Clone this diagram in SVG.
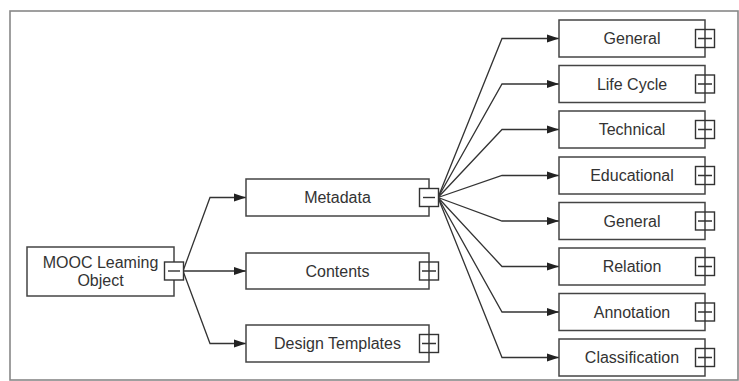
<svg xmlns="http://www.w3.org/2000/svg" width="739" height="381" viewBox="0 0 739 381">
<style>
.node{fill:#fff;stroke:#444;stroke-width:1.5}
.tg{fill:#fff;stroke:#333;stroke-width:1.4}
.tl{stroke:#333;stroke-width:1.4;fill:none}
.lbl{font-family:"Liberation Sans",Arial,sans-serif;font-size:16px;fill:#333;text-anchor:middle}
.conn{fill:none;stroke:#333;stroke-width:1.3}
</style>
<defs>
<marker id="arr" markerUnits="userSpaceOnUse" markerWidth="13" markerHeight="9" refX="12" refY="4.5" orient="auto">
<path d="M0,0.5 L12,4.5 L0,8.5 Z" fill="#222"/>
</marker>
</defs>
<rect x="10" y="11" width="728" height="369" fill="#fff" stroke="#888" stroke-width="1.6"/>
<g id="connectors">
<path class="conn" marker-end="url(#arr)" d="M183,271 L210,197.5 L246,197.5"/>
<path class="conn" marker-end="url(#arr)" d="M183,271 L246,271"/>
<path class="conn" marker-end="url(#arr)" d="M183,271 L210,343.5 L246,343.5"/>
<path class="conn" marker-end="url(#arr)" d="M438,197.5 L502,38.5 L559,38.5"/>
<path class="conn" marker-end="url(#arr)" d="M438,197.5 L502,84 L559,84"/>
<path class="conn" marker-end="url(#arr)" d="M438,197.5 L502,129.5 L559,129.5"/>
<path class="conn" marker-end="url(#arr)" d="M438,197.5 L502,175.5 L559,175.5"/>
<path class="conn" marker-end="url(#arr)" d="M438,197.5 L502,221 L559,221"/>
<path class="conn" marker-end="url(#arr)" d="M438,197.5 L502,266.5 L559,266.5"/>
<path class="conn" marker-end="url(#arr)" d="M438,197.5 L502,312 L559,312"/>
<path class="conn" marker-end="url(#arr)" d="M438,197.5 L502,357.5 L559,357.5"/>
</g>
<g id="root">
<rect class="node" x="27" y="247" width="147" height="49"/>
<text class="lbl" x="100.5" y="268">MOOC Leaming</text>
<text class="lbl" x="100.5" y="286">Object</text>
<rect class="tg" x="164.5" y="262" width="19" height="18"/>
<path class="tl" d="M168,271 L180,271"/>
</g>
<g id="metadata">
<rect class="node" x="246" y="179" width="183" height="37"/>
<text class="lbl" x="337.5" y="203">Metadata</text>
<rect class="tg" x="419.5" y="188.5" width="19" height="18"/>
<path class="tl" d="M423,197.5 L435,197.5"/>
</g>
<g id="contents">
<rect class="node" x="246" y="253" width="183" height="36"/>
<text class="lbl" x="337.5" y="276.5">Contents</text>
<rect class="tg" x="419.5" y="262" width="19" height="18"/>
<path class="tl" d="M422,271 L436,271 M429,262 L429,280"/>
</g>
<g id="design-templates">
<rect class="node" x="246" y="325" width="183" height="37"/>
<text class="lbl" x="337.5" y="349">Design Templates</text>
<rect class="tg" x="419.5" y="334.5" width="19" height="18"/>
<path class="tl" d="M422,343.5 L436,343.5 M429,334.5 L429,352.5"/>
</g>
<g id="general-1">
<rect class="node" x="559" y="20" width="146" height="37"/>
<text class="lbl" x="632" y="44">General</text>
<rect class="tg" x="695.5" y="29.5" width="19" height="18"/>
<path class="tl" d="M698,38.5 L712,38.5 M705,29.5 L705,47.5"/>
</g>
<g id="life-cycle">
<rect class="node" x="559" y="65.5" width="146" height="37"/>
<text class="lbl" x="632" y="89.5">Life Cycle</text>
<rect class="tg" x="695.5" y="75" width="19" height="18"/>
<path class="tl" d="M698,84 L712,84 M705,75 L705,93"/>
</g>
<g id="technical">
<rect class="node" x="559" y="111" width="146" height="37"/>
<text class="lbl" x="632" y="135">Technical</text>
<rect class="tg" x="695.5" y="120.5" width="19" height="18"/>
<path class="tl" d="M698,129.5 L712,129.5 M705,120.5 L705,138.5"/>
</g>
<g id="educational">
<rect class="node" x="559" y="157" width="146" height="37"/>
<text class="lbl" x="632" y="181">Educational</text>
<rect class="tg" x="695.5" y="166.5" width="19" height="18"/>
<path class="tl" d="M698,175.5 L712,175.5 M705,166.5 L705,184.5"/>
</g>
<g id="general-2">
<rect class="node" x="559" y="202.5" width="146" height="37"/>
<text class="lbl" x="632" y="226.5">General</text>
<rect class="tg" x="695.5" y="212" width="19" height="18"/>
<path class="tl" d="M698,221 L712,221 M705,212 L705,230"/>
</g>
<g id="relation">
<rect class="node" x="559" y="248" width="146" height="37"/>
<text class="lbl" x="632" y="272">Relation</text>
<rect class="tg" x="695.5" y="257.5" width="19" height="18"/>
<path class="tl" d="M698,266.5 L712,266.5 M705,257.5 L705,275.5"/>
</g>
<g id="annotation">
<rect class="node" x="559" y="293.5" width="146" height="37"/>
<text class="lbl" x="632" y="317.5">Annotation</text>
<rect class="tg" x="695.5" y="303" width="19" height="18"/>
<path class="tl" d="M698,312 L712,312 M705,303 L705,321"/>
</g>
<g id="classification">
<rect class="node" x="559" y="339" width="146" height="37"/>
<text class="lbl" x="632" y="363">Classification</text>
<rect class="tg" x="695.5" y="348.5" width="19" height="18"/>
<path class="tl" d="M698,357.5 L712,357.5 M705,348.5 L705,366.5"/>
</g>
</svg>
